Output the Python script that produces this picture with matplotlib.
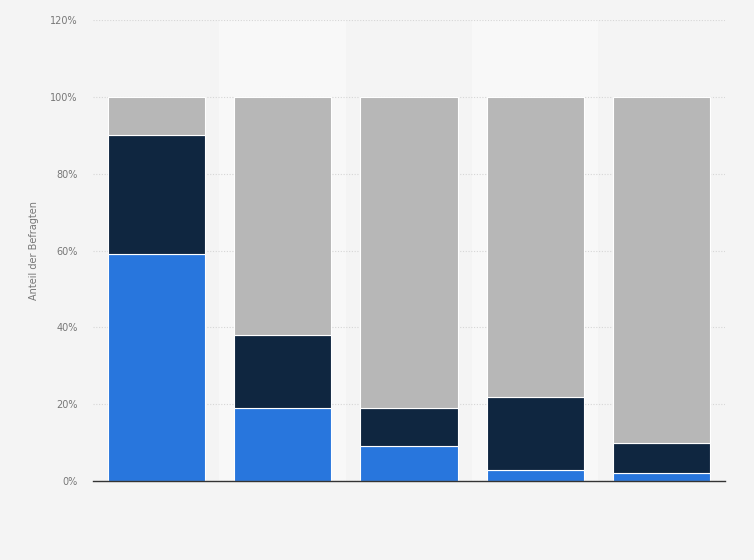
import numpy as np
import matplotlib.pyplot as plt
from matplotlib.ticker import FuncFormatter

# values in percent
categories = ["1", "2", "3", "4", "5"]
blue_vals = [59, 19, 9, 3, 2]
dark_vals = [31, 19, 10, 19, 8]
gray_vals = [10, 62, 81, 78, 90]
y_ticks = [0, 20, 40, 60, 80, 100, 120]

BG = "#f4f4f4"
BAND = "#f8f8f8"
BLUE = "#2876dd"
DARK = "#0f2640"
GRAY = "#b7b7b7"

fig = plt.figure(figsize=(7.54, 5.6), dpi=100, facecolor=BG)
ax = fig.add_axes([0.1233, 0.141, 0.838, 0.823])
ax.set_facecolor(BG)

x = np.arange(len(categories))

# alternating column bands
for i in x:
    if i % 2 == 1:
        ax.axvspan(i - 0.5, i + 0.5, color=BAND, zorder=0, lw=0)

ax.set_axisbelow(True)
ax.yaxis.grid(True, color="#d6d6d6", linestyle=(0, (1, 1.5)), linewidth=0.8, zorder=1)

width = 0.77
bottom = np.zeros(len(categories))
for vals, col in [(blue_vals, BLUE), (dark_vals, DARK), (gray_vals, GRAY)]:
    ax.bar(x, vals, width=width, bottom=bottom, color=col,
           edgecolor="white", linewidth=0.8, zorder=2)
    bottom += np.array(vals)

ax.set_xlim(-0.5, len(categories) - 0.5)
ax.set_ylim(0, 120)
ax.set_yticks(y_ticks)
ax.yaxis.set_major_formatter(FuncFormatter(lambda v, p: f"{v:.0f}%"))
ax.set_xticks([])
ax.tick_params(axis="y", length=0, labelsize=7, colors="#777777", pad=11)

for side in ["top", "right", "left"]:
    ax.spines[side].set_visible(False)
ax.spines["bottom"].set_color("#333333")
ax.spines["bottom"].set_linewidth(1.0)
ax.spines["bottom"].set_zorder(3)

ax.set_ylabel("Anteil der Befragten", fontsize=7, color="#777777", labelpad=8)

plt.savefig("out.png", dpi=100, facecolor=BG)
